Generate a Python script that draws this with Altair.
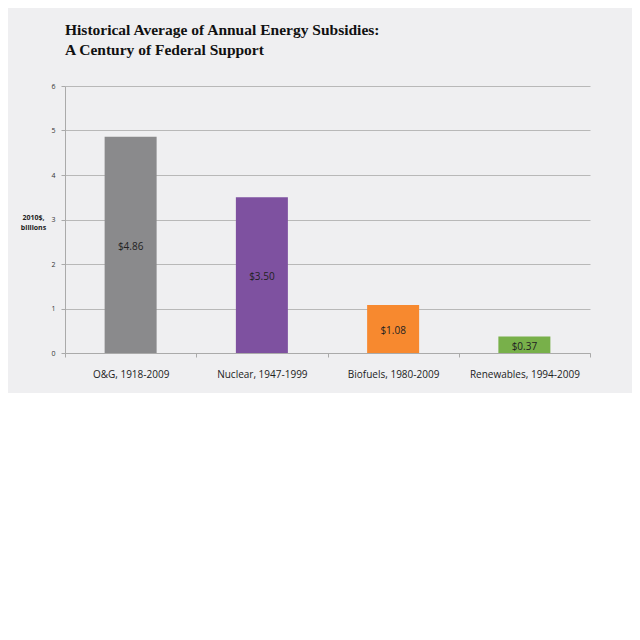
import altair as alt
import pandas as pd

categories = ["O&G, 1918-2009", "Nuclear, 1947-1999", "Biofuels, 1980-2009", "Renewables, 1994-2009"]
values = [4.86, 3.50, 1.08, 0.37]
labels = ["$4.86", "$3.50", "$1.08", "$0.37"]
colors = ["#8a8a8c", "#7e51a0", "#f7892f", "#78b04a"]

df = pd.DataFrame({"cat": categories, "val": values, "lab": labels, "half": [v / 2 for v in values]})

x = alt.X("cat:N", sort=categories, title=None,
          scale=alt.Scale(paddingInner=0, paddingOuter=0),
          axis=alt.Axis(labelAngle=0, labelFont="Open Sans", labelFontSize=10, labelColor="#222222",
                        labelPadding=12, tickBand="extent", tickSize=4, tickColor="#aaaaaa",
                        domainColor="#aaaaaa", grid=False))

bars = alt.Chart(df).mark_bar(size=52).encode(
    x=x,
    y=alt.Y("val:Q", scale=alt.Scale(domain=[0, 6]),
            title=["2010$,", "billions"],
            axis=alt.Axis(values=[0, 1, 2, 3, 4, 5, 6], format="d", labelFontSize=7,
                          labelFont="Open Sans", labelColor="#333333", labelPadding=6,
                          tickSize=4, tickColor="#aaaaaa", domainColor="#aaaaaa",
                          gridColor="#b8b8b8", gridWidth=1,
                          titleAngle=0, titleFont="Open Sans", titleFontSize=7, titleFontWeight="bold",
                          titleColor="#222222", titleAlign="center", titleBaseline="middle",
                          titleX=-32, titleY=131, titleLineHeight=10)),
    color=alt.Color("cat:N", sort=categories, scale=alt.Scale(domain=categories, range=colors), legend=None),
)

text = alt.Chart(df).mark_text(font="Open Sans", fontSize=10, color="#222222", baseline="middle", dy=2).encode(
    x=alt.X("cat:N", sort=categories),
    y=alt.Y("half:Q"),
    text="lab:N",
)

chart = (bars + text).properties(
    width=525, height=267,
    background="#efeff1",
    autosize=alt.AutoSizeParams(type="none"),
    padding={"left": 57, "top": 78, "right": 42, "bottom": 40},
    title=alt.TitleParams(
        ["Historical Average of Annual Energy Subsidies:", "A Century of Federal Support"],
        anchor="start", font="Liberation Serif", fontSize=15.5, fontWeight="bold",
        color="#111111", lineHeight=20, offset=24, frame="group",
    ),
).configure_view(stroke=None)

chart.save("out.html", embed_options={"renderer": "svg", "actions": False})
